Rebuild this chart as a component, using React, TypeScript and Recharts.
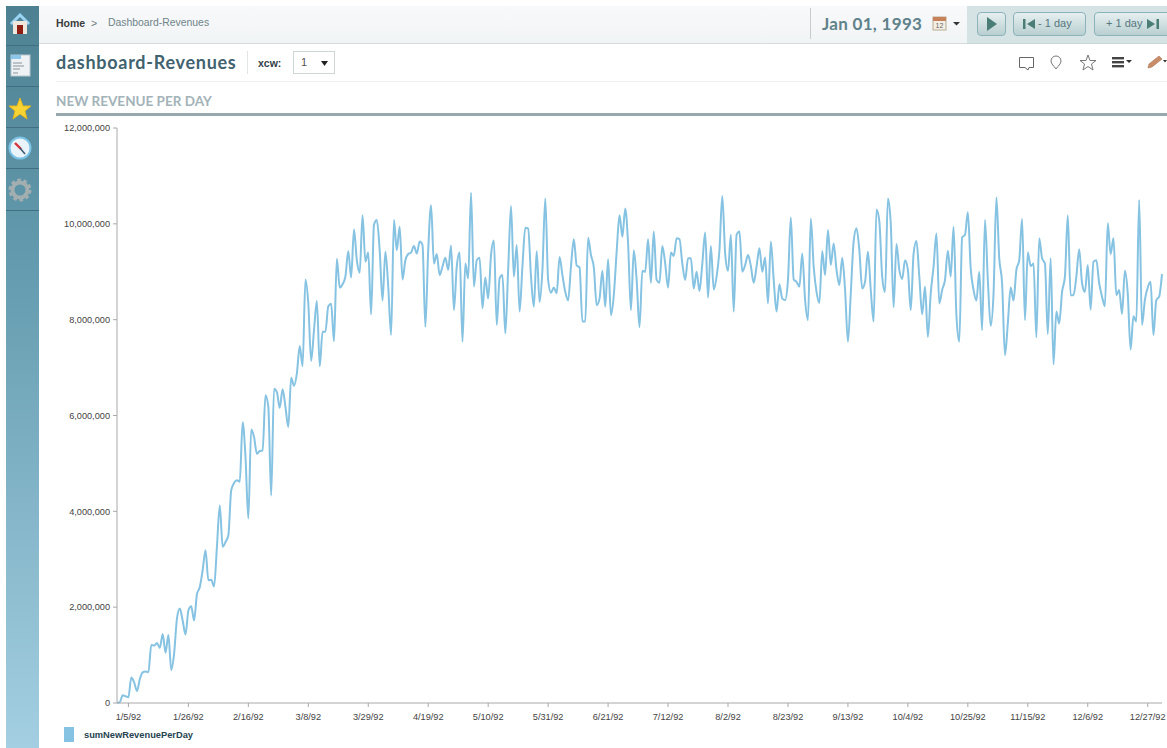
import React from "react";
import { LineChart, Line, XAxis, YAxis, Legend } from "recharts";

const seriesName = "sumNewRevenuePerDay";
const chartTitle = "NEW REVENUE PER DAY";
const yTicks = [0, 2000000, 4000000, 6000000, 8000000, 10000000, 12000000];
const tickDays = [4, 25, 46, 67, 88, 109, 130, 151, 172, 193, 214, 235, 256, 277, 298, 319, 340, 361];
const tickLabels = ["1/5/92", "1/26/92", "2/16/92", "3/8/92", "3/29/92", "4/19/92", "5/10/92", "5/31/92", "6/21/92", "7/12/92", "8/2/92", "8/23/92", "9/13/92", "10/4/92", "10/25/92", "11/15/92", "12/6/92", "12/27/92"];

// Daily values, millions, from 1/1/92 to 1/1/93
const janFeb = [0, 0.02, 0.16, 0.14, 0.12, 0.53, 0.43, 0.25, 0.5, 0.64, 0.66, 0.64, 1.21, 1.2, 1.25, 1.15, 1.44, 1.05, 1.42, 0.69, 1.03, 1.76, 1.97, 1.72, 1.43, 1.93, 2.02, 1.72, 2.27, 2.42, 2.77, 3.19, 2.56, 2.57, 2.43, 3.26, 4.12, 3.26, 3.36, 3.5, 4.44, 4.59, 4.65, 4.62, 5.86, 5.14, 3.85, 5.71, 5.55, 5.2, 5.26, 5.27, 6.42, 6.18, 4.33, 6.56, 6.49, 6.16, 6.55, 6.18];
const marApr = [5.76, 6.79, 6.62, 6.88, 7.45, 7.03, 8.84, 8.34, 7.14, 7.78, 8.39, 7.03, 7.75, 7.75, 8.28, 8.33, 7.55, 9.27, 8.67, 8.74, 8.9, 9.43, 8.88, 9.88, 9.24, 8.98, 10.18, 9.21, 9.4, 8.11, 9.98, 10.08, 9.45, 8.4, 9.42, 8.69, 7.68, 10.08, 9.45, 9.94, 8.84, 9.24, 9.37, 9.4, 9.54, 9.38, 9.63, 9.56, 7.85, 9.45, 10.39, 9.17, 9.37, 8.93, 9.11, 9.29, 9.04, 9.55, 8.2, 9.11];
const mayJun = [9.4, 7.54, 9.17, 8.86, 10.65, 8.69, 9.24, 9.29, 8.24, 8.88, 8.44, 9.35, 9.65, 7.89, 8.86, 8.93, 7.71, 9.04, 10.37, 8.9, 9.56, 8.17, 9.11, 9.92, 9.9, 8.9, 8.27, 9.43, 8.37, 9.04, 10.53, 8.83, 8.56, 8.67, 8.55, 9.31, 8.93, 8.58, 8.4, 9.11, 9.68, 9.13, 9.09, 7.96, 7.96, 9.71, 9.35, 9.09, 8.3, 8.44, 9.02, 8.27, 9.26, 8.09, 8.51, 9.42, 10.18, 9.73, 10.32, 9.59];
const julAug = [8.2, 9.45, 8.83, 7.84, 9.02, 9.0, 9.68, 8.77, 9.84, 8.83, 8.77, 9.54, 9.17, 8.67, 9.4, 9.33, 9.7, 9.68, 9.17, 8.83, 9.28, 9.28, 8.65, 9.0, 8.6, 9.17, 9.82, 8.46, 9.54, 8.63, 8.9, 9.45, 10.58, 9.38, 9.02, 9.77, 8.17, 9.77, 9.84, 9.0, 9.14, 9.35, 9.12, 8.77, 9.11, 9.49, 9.0, 9.3, 8.34, 9.63, 8.83, 8.17, 8.74, 8.44, 8.41, 8.83, 10.13, 8.84, 8.79, 8.69];
const sepOct = [9.38, 8.41, 7.99, 10.11, 9.11, 8.58, 8.35, 9.43, 8.93, 9.87, 9.14, 9.59, 9.04, 8.72, 9.29, 8.62, 7.54, 8.55, 9.63, 9.91, 9.45, 8.65, 8.79, 9.42, 8.62, 7.96, 10.3, 10.05, 8.9, 8.58, 10.53, 10.01, 8.26, 9.58, 9.04, 8.85, 9.24, 9.04, 8.2, 9.38, 9.64, 8.9, 8.11, 8.69, 7.64, 8.55, 9.11, 9.8, 8.34, 8.62, 8.83, 9.44, 8.9, 9.94, 8.09, 7.54, 9.72, 9.77, 10.24, 9.07];
const novDec = [8.62, 8.4, 9.0, 7.78, 10.08, 8.83, 7.87, 8.55, 10.55, 9.28, 8.76, 7.26, 7.92, 8.67, 8.4, 9.04, 9.24, 10.1, 7.99, 9.4, 9.12, 9.17, 7.63, 9.7, 9.28, 9.17, 7.7, 9.28, 7.07, 8.17, 7.92, 8.58, 8.9, 10.18, 8.51, 8.51, 8.9, 9.47, 8.76, 8.58, 9.14, 8.21, 9.21, 9.24, 8.76, 8.48, 8.28, 10.01, 9.37, 9.7, 8.51, 8.62, 8.12, 9.02, 8.55, 7.38, 8.07, 7.96, 10.5, 7.89, 8.41, 8.67, 8.79, 7.68, 8.41, 8.48, 8.95];

const millions = [...janFeb, ...marApr, ...mayJun, ...julAug, ...sepOct, ...novDec];
const data = millions.map((v, day) => ({ day, [seriesName]: v * 1000000 }));

const LINE = "#86c3e2";
const SANS = "'Liberation Sans', Arial, sans-serif";
const DISPLAY = "Lato, 'Open Sans', sans-serif";

const abs = (left: number, top: number, width: number, height: number, extra: React.CSSProperties = {}): React.CSSProperties => ({
  position: "absolute", left, top, width, height, ...extra,
});
const text = (left: number, top: number, extra: React.CSSProperties = {}): React.CSSProperties => ({
  position: "absolute", left, top, whiteSpace: "nowrap", fontFamily: SANS, ...extra,
});

function Sidebar() {
  return (
    <div style={abs(6, 6, 33, 742, { background: "linear-gradient(#4d8192 0%, #649bae 35%, #a4cfe2 100%)" })}>
      {[39, 80, 121, 162, 204].map((y) => (
        <div key={y} style={abs(0, y, 33, 1, { background: "#3f6f80" })} />
      ))}
      <svg width={33} height={210} style={{ position: "absolute", left: 0, top: 0 }}>
        <path d="M4 17 L14 7 L24 17 L22 19 L14 11 L6 19 Z" fill="#9fd3ee" stroke="#6fb4d8" />
        <rect x={7} y={15} width={14} height={13} fill="#efe6dc" />
        <rect x={11} y={19} width={6} height={9} fill="#8e1e12" />
        <rect x={5} y={49} width={19} height={21} fill="#eef2f5" stroke="#b9c7cf" />
        <rect x={5} y={49} width={10} height={4} fill="#8cc6ea" />
        <path d="M7 57 H16 M7 60 H18 M7 63 H14 M7 67 H12" stroke="#8a949a" strokeWidth={1} />
        <path d="M14 92 L17 100 L25 100 L19 105 L21 113 L14 108 L7 113 L9 105 L3 100 L11 100 Z" fill="#f7d433" stroke="#e2b51e" />
        <circle cx={14} cy={142} r={10.5} fill="#e9f4fa" stroke="#7cc3e6" strokeWidth={2} />
        <path d="M9 137 L15 143" stroke="#d8323a" strokeWidth={2.4} fill="none" />
        <path d="M14 142 L19 148" stroke="#3f5a70" strokeWidth={1.6} />
        <circle cx={14} cy={184} r={7.5} fill="none" stroke="#a3aeb0" strokeWidth={4} />
        <circle cx={14} cy={184} r={10} fill="none" stroke="#a3aeb0" strokeWidth={3} strokeDasharray="3.5 2.8" />
      </svg>
    </div>
  );
}

function TopBar() {
  const btn = (l: number, w: number): React.CSSProperties => abs(l, 12, w, 24, {
    boxSizing: "border-box", border: "1px solid #8db3ba", borderRadius: 4, background: "linear-gradient(#e6eff0,#b9cfd1)",
    color: "#57777e", fontFamily: SANS, fontSize: 11, lineHeight: "21px",
  });
  return (
    <>
      <div style={abs(39, 6, 1128, 38, { background: "linear-gradient(#f8f9fa,#f1f4f5)", borderBottom: "1px solid #d4dcdf", boxSizing: "border-box" })} />
      <div style={abs(967, 6, 200, 38, { background: "#d5e3e4", borderBottom: "1px solid #c8d6d8", boxSizing: "border-box" })} />
      <div style={text(56, 17, { fontSize: 10.5, fontWeight: 700, color: "#3c3c3c" })}>Home</div>
      <div style={text(91, 17, { fontSize: 10.5, color: "#6c7a7f" })}>&gt;</div>
      <div style={text(108, 17, { fontSize: 10.4, color: "#6f8489" })}>Dashboard-Revenues</div>
      <div style={abs(810, 8, 1, 31, { background: "#c4cccc" })} />
      <div style={text(822, 13, { fontFamily: DISPLAY, fontSize: 17, fontWeight: 700, color: "#5f828b", letterSpacing: 0.3 })}>Jan 01, 1993</div>
      <svg width={30} height={20} style={{ position: "absolute", left: 932, top: 14 }}>
        <rect x={1} y={3} width={13} height={13} fill="#f4efe4" stroke="#b9a992" />
        <rect x={1} y={3} width={13} height={4} fill="#c8825a" />
        <text x={7.5} y={14} fontSize={7} textAnchor="middle" fill="#666" fontFamily={SANS}>12</text>
        <path d="M21 8 L28 8 L24.5 11.5 Z" fill="#333" />
      </svg>
      <div style={btn(977, 29)}>
        <svg width={12} height={14} style={{ position: "absolute", left: 8, top: 4 }}><path d="M1 0 L11 7 L1 14 Z" fill="#4b7d77" /></svg>
      </div>
      <div style={btn(1013, 73)}>
        <svg width={14} height={12} style={{ position: "absolute", left: 9, top: 5 }}><path d="M0 1 H2.5 V11 H0 Z M12 1 V11 L4 6 Z" fill="#4b7d77" /></svg>
        <span style={{ position: "absolute", left: 24, top: 0, whiteSpace: "nowrap" }}>- 1 day</span>
      </div>
      <div style={btn(1094, 80)}>
        <span style={{ position: "absolute", left: 11, top: 0, whiteSpace: "nowrap" }}>+ 1 day</span>
        <svg width={14} height={12} style={{ position: "absolute", left: 52, top: 5 }}><path d="M0 1 V11 L8 6 Z M9.5 1 H12 V11 H9.5 Z" fill="#4b7d77" /></svg>
      </div>
    </>
  );
}

function TitleRow() {
  return (
    <>
      <div style={text(56, 51, { fontFamily: DISPLAY, fontSize: 18, fontWeight: 700, color: "#41626e", letterSpacing: 0.72 })}>dashboard-Revenues</div>
      <div style={abs(247, 51, 1, 23, { background: "#e2e6e7" })} />
      <div style={text(258, 57, { fontSize: 10.5, fontWeight: 700, color: "#2f3f45" })}>xcw:</div>
      <div style={abs(293, 51, 42, 23, { boxSizing: "border-box", border: "1px solid #cfd6d8", background: "#fff" })}>
        <span style={text(7, 4, { fontSize: 11, color: "#555" })}>1</span>
        <svg width={10} height={8} style={{ position: "absolute", left: 26, top: 8 }}><path d="M1 1 L8 1 L4.5 6 Z" fill="#222" /></svg>
      </div>
      <svg width={160} height={24} style={{ position: "absolute", left: 1015, top: 50 }}>
        <path d="M4.5 7.5 H18.5 V17.5 H14 L13 20 L10 17.5 H4.5 Z" fill="none" stroke="#666" />
        <path d="M36 11 A5 5 0 0 1 46 11 C46 14 43 16 41 19 C39 16 36 14 36 11 Z" fill="none" stroke="#777" />
        <path d="M73 5 L75 10.5 L81 10.5 L76.5 14 L78 20 L73 16.5 L68 20 L69.5 14 L65 10.5 L71 10.5 Z" fill="none" stroke="#777" />
        <rect x={97} y={7} width={12} height={2.4} fill="#444" />
        <rect x={97} y={11} width={12} height={2.4} fill="#444" />
        <rect x={97} y={15} width={12} height={2.4} fill="#444" />
        <path d="M111 10 L117 10 L114 13 Z" fill="#333" />
        <path d="M133 18 L134 14 L144 6 L147 9 L137 17 Z" fill="#c98d6a" stroke="#a66f52" strokeWidth={0.6} />
        <path d="M148 10 L152 10 L150 12.5 Z" fill="#333" />
      </svg>
      <div style={abs(56, 81, 1111, 1, { background: "#eef0f0" })} />
      <div style={text(56, 93, { fontFamily: DISPLAY, fontSize: 13.5, fontWeight: 700, color: "#a3b3b8" })}>{chartTitle}</div>
      <div style={abs(56, 113, 1111, 3, { background: "#98a9ad" })} />
    </>
  );
}

function LegendContent({ payload }: any) {
  return (
    <div style={{ display: "flex", alignItems: "center" }}>
      {(payload || []).map((p: any) => (
        <React.Fragment key={p.value}>
          <span style={{ display: "inline-block", width: 10, height: 15, background: p.color, marginRight: 10 }} />
          <span style={{ fontFamily: SANS, fontSize: 9.3, fontWeight: 700, color: "#26434f" }}>{p.value}</span>
        </React.Fragment>
      ))}
    </div>
  );
}

export default function App() {
  const tick = { fontFamily: SANS, fontSize: 9.2, fill: "#444" };
  return (
    <div style={{ position: "absolute", left: 0, top: 0, width: 1167, height: 748, overflow: "hidden", background: "#fff" }}>
      <Sidebar />
      <TopBar />
      <TitleRow />
      <div style={{ position: "absolute", left: 0, top: 0 }}>
        <LineChart width={1167} height={748} data={data} margin={{ top: 128, right: 5, bottom: 0, left: 57 }}>
          <XAxis
            dataKey="day"
            type="number"
            domain={[0, 366]}
            ticks={tickDays}
            interval={0}
            height={30}
            stroke="#a9a9a9"
            tickSize={4}
            tickMargin={6}
            tick={tick}
            tickFormatter={(d: number) => tickLabels[tickDays.indexOf(d)]}
          />
          <YAxis
            type="number"
            domain={[0, 12000000]}
            ticks={yTicks}
            interval={0}
            width={60}
            stroke="#a9a9a9"
            tickSize={4}
            tickMargin={3}
            tick={tick}
            tickFormatter={(v: number) => v.toLocaleString("en-US")}
          />
          <Legend content={<LegendContent />} wrapperStyle={{ position: "absolute", left: 64, top: 727, width: 200, height: 15 }} />
          <Line dataKey={seriesName} type="monotone" stroke={LINE} strokeWidth={2} dot={false} isAnimationActive={false} />
        </LineChart>
      </div>
    </div>
  );
}
